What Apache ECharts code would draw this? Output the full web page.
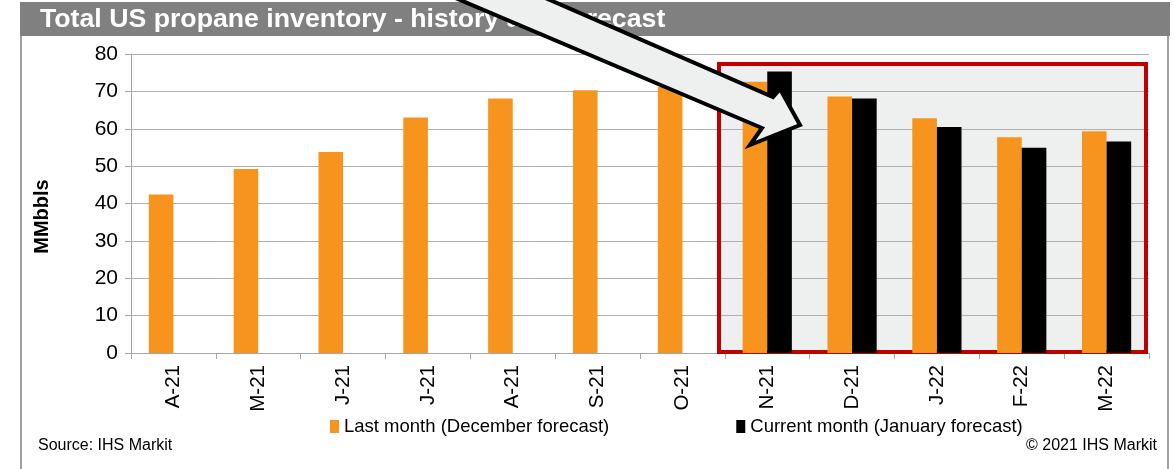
<!DOCTYPE html>
<html>
<head>
<meta charset="utf-8">
<script src="https://cdn.jsdelivr.net/npm/echarts@6/dist/echarts.min.js"></script>
<style>
  html, body { margin: 0; padding: 0; background: #fff; }
  #chart { width: 1175px; height: 469px; }
</style>
</head>
<body>
<div id="chart"></div>
<script>
// month labels (history Apr-21..Oct-21, forecast Nov-21..Mar-22)
const months = ['A-21', 'M-21', 'J-21', 'J-21', 'A-21', 'S-21', 'O-21', 'N-21', 'D-21', 'J-22', 'F-22', 'M-22'];
// MMbbls
const lastMonth = [42.4, 49.2, 53.8, 63.0, 68.1, 70.3, 71.2, 72.6, 68.6, 62.8, 57.7, 59.3];
const currentMonth = [null, null, null, null, null, null, null, 75.3, 68.1, 60.5, 54.9, 56.6];
const yMin = 0;
const yMax = 80;
const yStep = 10;

const FONT = 'Liberation Sans';
const AXIS_GRAY = '#a6a6a6';

const chart = echarts.init(document.getElementById('chart'));

const option = {
  animation: false,
  backgroundColor: '#fff',
  textStyle: { fontFamily: FONT },
  grid: { left: 131, right: 26, top: 54, bottom: 116 },
  legend: {
    left: 330,
    top: 417,
    padding: 0,
    itemGap: 127,
    itemWidth: 9,
    itemHeight: 13,
    icon: 'rect',
    textStyle: { fontFamily: FONT, fontSize: 18.5, color: '#000' },
    data: ['Last month (December forecast)', 'Current month (January forecast)']
  },
  xAxis: {
    type: 'category',
    data: months,
    axisLine: { lineStyle: { color: AXIS_GRAY, width: 1 } },
    axisTick: { show: true, length: 6, lineStyle: { color: AXIS_GRAY } },
    axisLabel: {
      interval: 0,
      rotate: 90,
      margin: 12,
      fontFamily: FONT,
      fontSize: 20.5,
      color: '#000'
    },
    splitLine: { show: false }
  },
  yAxis: {
    type: 'value',
    min: yMin,
    max: yMax,
    interval: yStep,
    name: 'MMbbls',
    nameLocation: 'middle',
    nameGap: 79,
    nameTextStyle: {
      fontFamily: FONT,
      fontSize: 20,
      fontWeight: 'bold',
      color: '#000',
      padding: [0, 26, 0, 0]
    },
    axisLine: { show: true, lineStyle: { color: AXIS_GRAY, width: 1 } },
    axisTick: { show: true, length: 6, lineStyle: { color: AXIS_GRAY } },
    axisLabel: { margin: 13, fontFamily: FONT, fontSize: 21, color: '#000' },
    splitLine: { show: true, lineStyle: { color: '#b0b0b0', width: 1 } }
  },
  series: [
    {
      name: 'Last month (December forecast)',
      type: 'bar',
      data: lastMonth,
      barGap: '0%',
      barCategoryGap: '42%',
      itemStyle: { color: '#f7941d' },
      z: 3
    },
    {
      name: 'Current month (January forecast)',
      type: 'bar',
      data: currentMonth,
      barGap: '0%',
      barCategoryGap: '42%',
      itemStyle: { color: '#000' },
      z: 3
    }
  ],
  graphic: [
    // title band
    { type: 'rect', z: 5, shape: { x: 20, y: 2, width: 1150, height: 34 }, style: { fill: '#808080' } },
    {
      type: 'text', z: 6, x: 40, y: 19.5,
      style: {
        text: 'Total US propane inventory - history and forecast',
        fill: '#fff', font: 'bold 26.7px "Liberation Sans"',
        verticalAlign: 'middle'
      }
    },
    // frame sides
    { type: 'line', z: 5, shape: { x1: 21, y1: 36, x2: 21, y2: 469 }, style: { stroke: '#a0a0a0', lineWidth: 2 } },
    { type: 'line', z: 5, shape: { x1: 1168, y1: 36, x2: 1168, y2: 469 }, style: { stroke: '#a0a0a0', lineWidth: 2 } },
    // forecast highlight box
    { type: 'rect', z: -1, shape: { x: 719, y: 64, width: 427, height: 288 }, style: { fill: '#eef0ef' } },
    { type: 'rect', z: 2, shape: { x: 719, y: 64, width: 427, height: 288 }, style: { fill: null, stroke: '#c00000', lineWidth: 4 } },
    // pointer arrow
    {
      type: 'polygon', z: 20,
      shape: { points: [[413, -20], [504, -20], [773, 97], [780, 89], [800, 125], [750, 145], [762, 128]] },
      style: { fill: '#eef0ef', stroke: '#000', lineWidth: 4, lineJoin: 'miter' }
    },
    // footer
    {
      type: 'text', z: 6, x: 38, y: 446,
      style: { text: 'Source: IHS Markit', fill: '#000', font: '16px "Liberation Sans"', verticalAlign: 'middle' }
    },
    {
      type: 'text', z: 6, x: 1157, y: 446,
      style: { text: '\u00a9 2021 IHS Markit', fill: '#000', font: '16px "Liberation Sans"', align: 'right', verticalAlign: 'middle' }
    }
  ]
};

chart.setOption(option);
</script>
</body>
</html>
